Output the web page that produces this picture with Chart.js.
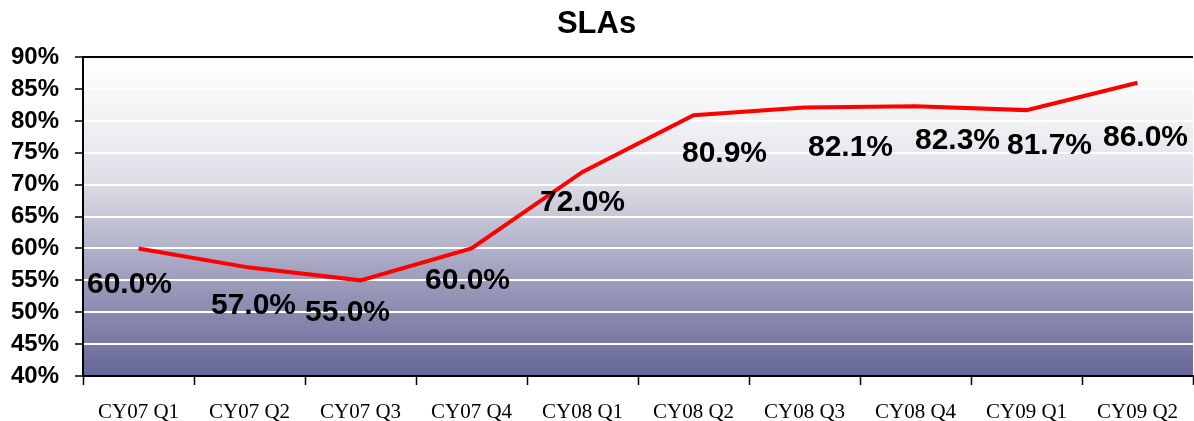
<!DOCTYPE html>
<html>
<head>
<meta charset="utf-8">
<script src="https://cdn.jsdelivr.net/npm/chart.js@4/dist/chart.umd.min.js"></script>
<style>
  html, body { margin: 0; padding: 0; background: #fff; }
  #wrap { width: 1194px; height: 421px; }
</style>
</head>
<body>
<div id="wrap"><canvas id="slaChart"></canvas></div>
<script>
// chart data
const quarters = ['CY07 Q1', 'CY07 Q2', 'CY07 Q3', 'CY07 Q4', 'CY08 Q1', 'CY08 Q2', 'CY08 Q3', 'CY08 Q4', 'CY09 Q1', 'CY09 Q2'];
const slaValues = [60.0, 57.0, 55.0, 60.0, 72.0, 80.9, 82.1, 82.3, 81.7, 86.0];
const yTicks = [40, 45, 50, 55, 60, 65, 70, 75, 80, 85, 90];

// where each value label sits relative to its point (px), like the original
const labelNudge = [[-9, 36], [4, 38], [-13, 32], [-4, 32], [0, 31], [31, 39], [46, 40], [42, 34], [23, 36], [8, 55]];

const sansBold = '"Liberation Sans", Arial, sans-serif';

// gradient fill behind the plot
const plotBackground = {
    id: 'plotBackground',
    beforeDraw(chart) {
        const { ctx, chartArea: a } = chart;
        const g = ctx.createLinearGradient(0, a.top, 0, a.bottom);
        g.addColorStop(0, '#ffffff');
        g.addColorStop(0.2, '#f2f2f5');
        g.addColorStop(0.4, '#dcdce5');
        g.addColorStop(0.6, '#b0b0c9');
        g.addColorStop(0.8, '#8a8aaf');
        g.addColorStop(1, '#666699');
        ctx.save();
        ctx.fillStyle = g;
        ctx.fillRect(a.left, a.top, a.right - a.left, a.bottom - a.top);
        ctx.restore();
    }
};

// value labels under the line
const valueLabels = {
    id: 'valueLabels',
    afterDatasetsDraw(chart) {
        const { ctx } = chart;
        const meta = chart.getDatasetMeta(0);
        ctx.save();
        ctx.font = 'bold 30px ' + sansBold;
        ctx.fillStyle = '#000';
        ctx.textAlign = 'center';
        ctx.textBaseline = 'middle';
        meta.data.forEach((pt, i) => {
            const [dx, dy] = labelNudge[i];
            ctx.fillText(slaValues[i].toFixed(1) + '%', pt.x + dx, pt.y + dy);
        });
        ctx.restore();
    }
};

const ctx = document.getElementById('slaChart').getContext('2d');
new Chart(ctx, {
    type: 'line',
    data: {
        labels: quarters,
        datasets: [{
            label: 'SLAs',
            data: slaValues,
            borderColor: '#ff0000',
            borderWidth: 4,
            pointRadius: 0,
            tension: 0,
            fill: false
        }]
    },
    options: {
        responsive: true,
        maintainAspectRatio: false,
        animation: false,
        layout: { padding: { left: 0, right: 1, top: 0, bottom: 0 } },
        plugins: {
            legend: { display: false },
            tooltip: { enabled: false },
            title: {
                display: true,
                text: 'SLAs',
                color: '#000',
                font: { family: sansBold, size: 31, weight: 'bold', lineHeight: 1.2 },
                padding: { top: 6, bottom: 14 }
            }
        },
        scales: {
            x: {
                offset: true,
                grid: {
                    offset: true,
                    drawOnChartArea: false,
                    drawTicks: true,
                    tickLength: 9,
                    tickColor: '#000',
                    tickWidth: 1.5
                },
                border: { display: true, color: '#000', width: 2 },
                ticks: {
                    color: '#000',
                    padding: 15,
                    maxRotation: 0,
                    autoSkip: false,
                    font: { family: '"Liberation Serif", "Times New Roman", serif', size: 21, lineHeight: 1.2 }
                },
                afterFit(scale) { scale.height = 45; }
            },
            y: {
                min: 40,
                max: 90,
                afterBuildTicks(scale) { scale.ticks = yTicks.map(v => ({ value: v })); },
                grid: {
                    color: ctx => ctx.tick && ctx.tick.value === 90 ? '#000' : '#ffffff',
                    lineWidth: 2,
                    drawTicks: true,
                    tickLength: 8,
                    tickColor: '#000',
                    tickWidth: 1.5
                },
                border: { display: true, color: '#000', width: 2 },
                ticks: {
                    color: '#000',
                    padding: 16,
                    font: { family: sansBold, size: 24, weight: 'bold' },
                    callback: v => v + '%'
                },
                afterFit(scale) { scale.width = 83; }
            }
        }
    },
    plugins: [plotBackground, valueLabels]
});
</script>
</body>
</html>
